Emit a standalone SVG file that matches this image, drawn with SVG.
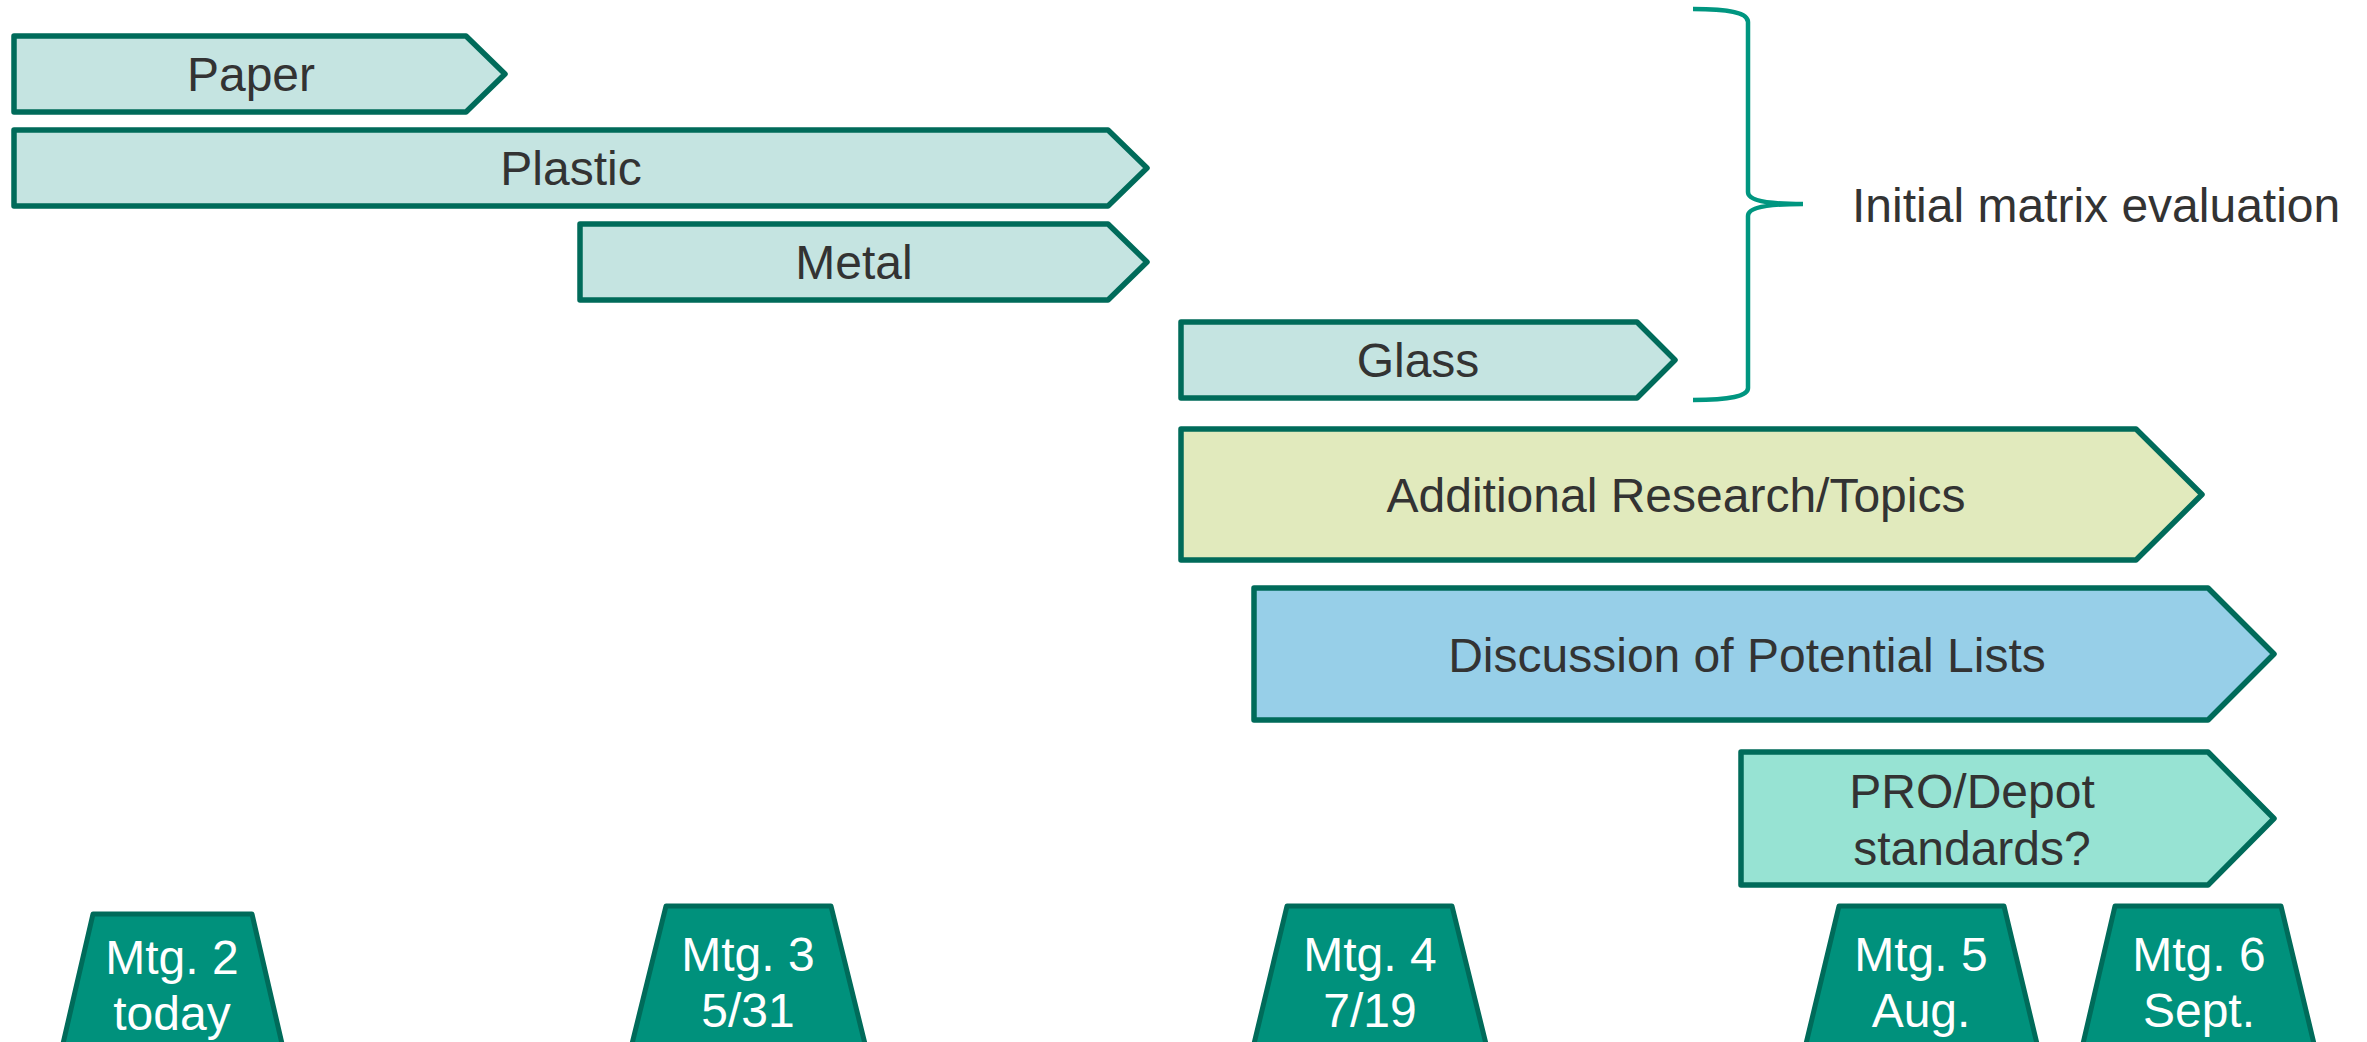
<svg xmlns="http://www.w3.org/2000/svg" width="2367" height="1042" viewBox="0 0 2367 1042">
<style>
.bar{stroke:#006B5A;stroke-width:5.5;stroke-linejoin:round}
.lt{fill:#C5E4E1}
.ol{fill:#E1EABD}
.bl{fill:#97CFE8}
.mn{fill:#97E3D3}
.mtg{fill:#00917C;stroke:#006B5A;stroke-width:5;stroke-linejoin:round}
.t{font-family:"Liberation Sans",Arial,sans-serif;font-size:48px;fill:#333333;text-anchor:middle}
.w{font-family:"Liberation Sans",Arial,sans-serif;font-size:48px;fill:#FFFFFF;text-anchor:middle}
.brace{fill:none;stroke:#009680;stroke-width:4.5;stroke-linecap:butt}
</style>
<rect width="2367" height="1042" fill="#FFFFFF"/>
<g id="paper"><path class="bar lt" d="M14,36 H466 L505,74 L466,112 H14 Z"/><text class="t" x="251" y="91">Paper</text></g>
<g id="plastic"><path class="bar lt" d="M14,130 H1108 L1147,168 L1108,206 H14 Z"/><text class="t" x="571" y="185">Plastic</text></g>
<g id="metal"><path class="bar lt" d="M580,224 H1108 L1147,262 L1108,300 H580 Z"/><text class="t" x="854" y="279">Metal</text></g>
<g id="glass"><path class="bar lt" d="M1181,322 H1637 L1675,360 L1637,398 H1181 Z"/><text class="t" x="1418" y="377">Glass</text></g>
<g id="additional"><path class="bar ol" d="M1181,429 H2136 L2202,494.5 L2136,560 H1181 Z"/><text class="t" x="1676" y="512">Additional Research/Topics</text></g>
<g id="discussion"><path class="bar bl" d="M1254,588 H2208 L2274,654 L2208,720 H1254 Z"/><text class="t" x="1747" y="672">Discussion of Potential Lists</text></g>
<g id="pro"><path class="bar mn" d="M1741,752 H2208 L2274,818.5 L2208,885 H1741 Z"/><text class="t" x="1972" y="808">PRO/Depot</text><text class="t" x="1972" y="865">standards?</text></g>
<g id="brace-group"><path class="brace" d="M1693,9 C1730,9 1748,13 1748,22 L1748,192 C1748,200 1765,204 1803,204 C1765,204 1748,208 1748,216 L1748,388 C1748,396 1730,400 1693,400"/><text class="t" x="1852" y="222" style="text-anchor:start">Initial matrix evaluation</text></g>
<g id="mtg2"><path class="mtg" d="M93,914 H252 L283,1048 H62 Z"/><text class="w" x="172" y="974">Mtg. 2</text><text class="w" x="172" y="1030">today</text></g>
<g id="mtg3"><path class="mtg" d="M666,906 H831 L866,1048 H631 Z"/><text class="w" x="748" y="971">Mtg. 3</text><text class="w" x="748" y="1027">5/31</text></g>
<g id="mtg4"><path class="mtg" d="M1287,906 H1452 L1487,1048 H1253 Z"/><text class="w" x="1370" y="971">Mtg. 4</text><text class="w" x="1370" y="1027">7/19</text></g>
<g id="mtg5"><path class="mtg" d="M1839,906 H2004 L2038,1048 H1805 Z"/><text class="w" x="1921" y="971">Mtg. 5</text><text class="w" x="1921" y="1027">Aug.</text></g>
<g id="mtg6"><path class="mtg" d="M2115,906 H2281 L2315,1048 H2082 Z"/><text class="w" x="2199" y="971">Mtg. 6</text><text class="w" x="2199" y="1027">Sept.</text></g>
<g id="connectors"></g>
</svg>
